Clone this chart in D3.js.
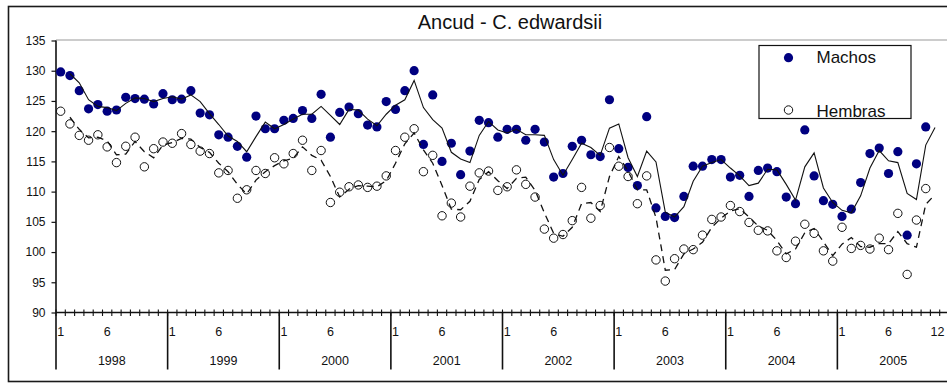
<!DOCTYPE html>
<html>
<head>
<meta charset="utf-8">
<script src="https://cdn.jsdelivr.net/npm/d3@7"></script>
<style>
  html, body { margin: 0; padding: 0; background: #fff; }
  svg { display: block; font-family: "Liberation Sans", Arial, sans-serif; }
</style>
</head>
<body>
<svg id="chart" width="947" height="383"></svg>
<script>
// Monthly mean size, Ancud - C. edwardsii, 1998-2005 (one value per month)
const years = ["1998", "1999", "2000", "2001", "2002", "2003", "2004", "2005"];

const machos = [
  129.8, 129.2, 126.7, 123.7, 124.4, 123.3, 123.5, 125.6, 125.4, 125.3, 124.5, 126.2,
  125.2, 125.3, 126.7, 123.0, 122.7, 119.4, 119.0, 117.5, 115.7, 122.5, 120.4, 120.4,
  121.8, 122.1, 123.4, 122.1, 126.1, 119.0, 123.1, 124.0, 122.9, 121.0, 120.7, 124.9,
  123.6, 126.7, 130.0, 117.8, 126.0, 115.0, 118.0, 112.8, 116.7, 121.8, 121.4, 119.0,
  120.3, 120.3, 118.5, 120.3, 118.2, 112.4, 113.0, 117.5, 118.5, 116.1, 115.8, 125.2,
  117.1, 114.0, 111.0, 122.4, 107.3, 105.9, 105.7, 109.2, 114.2, 114.2, 115.3, 115.3,
  112.4, 112.7, 109.2, 113.5, 113.9, 113.3, 109.1, 108.0, 120.2, 112.6, 108.5, 107.9,
  105.9, 107.1, 111.5, 116.3, 117.2, 113.0, 116.6, 102.8, 114.6, 120.7, null, null
];

const hembras = [
  123.3, 121.2, 119.3, 118.5, 119.4, 117.4, 114.8, 117.5, 119.0, 114.1, 117.1, 118.2,
  118.0, 119.6, 117.8, 116.7, 116.3, 113.1, 113.5, 108.9, 110.3, 113.5, 113.0, 115.6,
  114.6, 116.3, 118.5, 113.5, 116.8, 108.2, 109.9, 110.8, 111.1, 110.7, 110.9, 112.6,
  116.8, 119.0, 120.4, 113.3, 116.0, 106.0, 108.1, 105.8, 110.9, 113.1, 113.4, 110.2,
  110.8, 113.6, 111.2, 109.1, 103.8, 102.3, 102.9, 105.2, 110.7, 105.6, 107.7, 117.3,
  114.2, 112.5, 108.0, 112.6, 98.7, 95.2, 98.9, 100.5, 100.4, 102.8, 105.4, 105.8,
  107.7, 106.7, 104.9, 103.6, 103.5, 100.2, 99.1, 101.8, 104.6, 103.1, 100.2, 98.5,
  104.1, 100.6, 101.1, 100.5, 102.3, 100.4, 106.4, 96.3, 105.3, 110.5, null, null
];

// Two-month moving-average curves (solid: machos, dashed: hembras)
const machosTrend = [
  null, 129.5, 128.0, 125.2, 124.1, 123.9, 123.4, 124.6, 125.5, 125.4, 124.9, 125.4,
  125.7, 125.3, 126.0, 124.9, 122.9, 121.1, 119.2, 118.3, 116.6, 119.1, 121.5, 120.4,
  121.1, 122.0, 122.8, 122.8, 124.1, 122.6, 121.1, 123.6, 123.5, 122.0, 120.9, 122.8,
  124.3, 125.2, 128.4, 123.9, 121.9, 120.5, 116.5, 115.4, 114.8, 119.3, 121.6, 120.2,
  119.7, 120.3, 119.4, 119.4, 119.3, 115.3, 112.7, 115.3, 118.0, 117.3, 116.0, 120.5,
  121.2, 115.6, 112.5, 116.7, 114.9, 106.6, 105.8, 107.5, 111.7, 114.2, 114.8, 115.3,
  113.9, 112.6, 111.0, 111.4, 113.7, 113.6, 111.2, 108.6, 114.1, 116.4, 110.6, 108.2,
  106.9, 106.5, 109.3, 113.9, 116.8, 115.1, 114.8, 109.7, 108.7, 117.7, 120.6, null
];

const hembrasTrend = [
  null, 122.3, 120.3, 118.9, 119.0, 118.4, 116.1, 116.2, 118.3, 116.6, 115.6, 117.7,
  118.1, 118.8, 118.7, 117.3, 116.5, 114.7, 113.3, 111.2, 109.6, 111.9, 113.3, 114.3,
  115.1, 115.5, 117.4, 116.0, 115.2, 112.5, 109.1, 110.4, 111.0, 110.9, 110.8, 111.8,
  114.7, 117.9, 119.7, 116.9, 114.7, 111.0, 107.1, 107.0, 108.4, 112.0, 113.3, 111.8,
  110.5, 112.2, 112.4, 110.2, 106.5, 103.1, 102.6, 104.1, 108.0, 108.2, 106.7, 112.5,
  115.8, 113.4, 110.3, 110.3, 105.7, 97.0, 97.1, 99.7, 100.5, 101.6, 104.1, 105.6,
  106.8, 107.2, 105.8, 104.3, 103.6, 101.9, 99.7, 100.5, 103.2, 103.9, 101.7, 99.4,
  101.3, 102.4, 100.9, 100.8, 101.4, 101.4, 103.4, 101.4, 100.8, 107.9, 109.5, null
];

const yTicks = [90, 95, 100, 105, 110, 115, 120, 125, 130, 135];
const titleText = "Ancud - C. edwardsii";
const legendLabels = ["Machos", "Hembras"];

// month number shown under the axis for each category
const monthLabels = machos.map((_, i) =>
  i === machos.length - 1 ? "12" : (i % 12 === 0 ? "1" : (i % 12 === 5 ? "6" : "")));

const svg = d3.select("#chart");
const W = 947, H = 383;
const plot = { left: 56, top: 40.5, bottom: 312.5, right: 949 };

const x = d3.scaleBand()
  .domain(d3.range(machos.length))
  .range([plot.left, plot.right])
  .padding(0);
const bw = x.bandwidth();
const cx = i => x(i) + bw / 2;

const y = d3.scaleLinear().domain([90, 135]).range([plot.bottom, plot.top]);

// outer chart frame
svg.append("rect")
  .attr("x", 8.5).attr("y", 6.5)
  .attr("width", 1000).attr("height", 375)
  .attr("fill", "#fff").attr("stroke", "#1a1a1a").attr("stroke-width", 1.6);

// plot-area top border
svg.append("line")
  .attr("x1", plot.left).attr("x2", W)
  .attr("y1", plot.top - 0.5).attr("y2", plot.top - 0.5)
  .attr("stroke", "#9a9a9a").attr("stroke-width", 1.2);

// title
svg.append("text")
  .attr("x", 510).attr("y", 29)
  .attr("text-anchor", "middle")
  .attr("font-size", 20).attr("fill", "#111")
  .text(titleText);

// value axis
const yAxis = svg.append("g")
  .attr("transform", `translate(${plot.left},0)`)
  .call(d3.axisLeft(y).tickValues(yTicks).tickSize(4.5).tickPadding(6).tickFormat(d3.format("d")));
yAxis.select(".domain").remove();
yAxis.selectAll(".tick line").attr("stroke", "#111").attr("stroke-width", 1.2);
yAxis.selectAll(".tick text")
  .attr("font-family", "Liberation Sans, Arial, sans-serif")
  .attr("font-size", 12).attr("fill", "#111");

svg.append("line")
  .attr("x1", plot.left).attr("x2", plot.left)
  .attr("y1", plot.top).attr("y2", 369.5)
  .attr("stroke", "#111").attr("stroke-width", 1.6);

// category axis line with crossing month ticks
svg.append("line")
  .attr("x1", plot.left).attr("x2", W)
  .attr("y1", plot.bottom).attr("y2", plot.bottom)
  .attr("stroke", "#111").attr("stroke-width", 1.6);

const boundaries = d3.range(machos.length + 1).map(i => i < machos.length ? x(i) : x(i - 1) + bw);
svg.append("g").selectAll("line")
  .data(boundaries)
  .join("line")
  .attr("x1", d => d).attr("x2", d => d)
  .attr("y1", plot.bottom - 3).attr("y2", plot.bottom + 3.5)
  .attr("stroke", "#111").attr("stroke-width", 1.1);

// year separators
svg.append("g").selectAll("line")
  .data(years.slice(1))
  .join("line")
  .attr("x1", (d, k) => x((k + 1) * 12)).attr("x2", (d, k) => x((k + 1) * 12))
  .attr("y1", plot.bottom).attr("y2", 369.5)
  .attr("stroke", "#111").attr("stroke-width", 1.6);

// month labels (the last one is kept inside the visible width)
svg.append("g").selectAll("text")
  .data(monthLabels.map((t, i) => ({ t, i })).filter(d => d.t !== ""))
  .join("text")
  .attr("x", d => Math.min(cx(d.i), W - 1))
  .attr("y", 336)
  .attr("text-anchor", d => cx(d.i) > W - 8 ? "end" : "middle")
  .attr("font-size", 12.5).attr("fill", "#111")
  .text(d => d.t);

// year labels
svg.append("g").selectAll("text")
  .data(years)
  .join("text")
  .attr("x", (d, k) => (x(k * 12) + x(k * 12 + 11) + bw) / 2).attr("y", 364.5)
  .attr("text-anchor", "middle")
  .attr("font-size", 12.5).attr("fill", "#111")
  .text(d => d);

// markers
const markerR = 4.6;
svg.append("g").selectAll("circle")
  .data(machos.map((v, i) => ({ v, i })).filter(d => d.v != null))
  .join("circle")
  .attr("cx", d => cx(d.i)).attr("cy", d => y(d.v))
  .attr("r", markerR)
  .attr("fill", "#000080");

svg.append("g").selectAll("circle")
  .data(hembras.map((v, i) => ({ v, i })).filter(d => d.v != null))
  .join("circle")
  .attr("cx", d => cx(d.i)).attr("cy", d => y(d.v))
  .attr("r", markerR - 0.4)
  .attr("fill", "none").attr("stroke", "#111").attr("stroke-width", 1);

// moving-average curves
const line = d3.line()
  .defined(d => d != null)
  .x((d, i) => cx(i))
  .y(d => y(d));

svg.append("path")
  .datum(machosTrend)
  .attr("d", line)
  .attr("fill", "none").attr("stroke", "#111").attr("stroke-width", 1.1);

svg.append("path")
  .datum(hembrasTrend)
  .attr("d", line)
  .attr("fill", "none").attr("stroke", "#111").attr("stroke-width", 1.3)
  .attr("stroke-dasharray", "7,5");

// legend
const lg = svg.append("g");
lg.append("rect")
  .attr("x", 759).attr("y", 45.5).attr("width", 152).attr("height", 73)
  .attr("fill", "#fff").attr("stroke", "#111").attr("stroke-width", 1.2);
lg.append("circle").attr("cx", 788.5).attr("cy", 57.7).attr("r", markerR).attr("fill", "#000080");
lg.append("circle").attr("cx", 788.5).attr("cy", 110).attr("r", markerR - 0.4)
  .attr("fill", "none").attr("stroke", "#111").attr("stroke-width", 1);
lg.selectAll("text")
  .data(legendLabels)
  .join("text")
  .attr("x", 816.5).attr("y", (d, k) => k === 0 ? 63 : 116.5)
  .attr("font-size", 17).attr("fill", "#111")
  .text(d => d);
</script>
</body>
</html>
